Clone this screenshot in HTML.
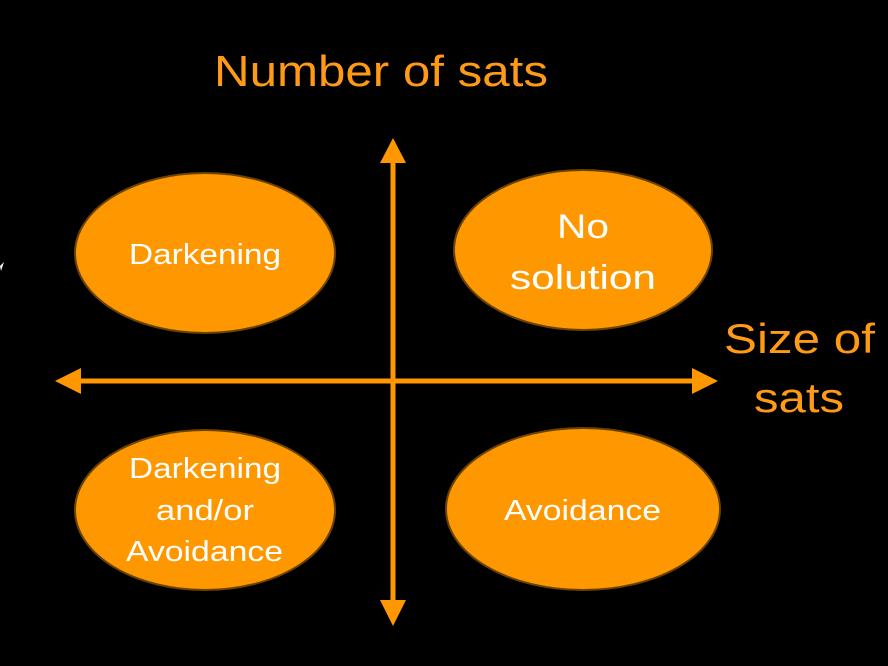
<!DOCTYPE html>
<html><head><style>
html,body{margin:0;padding:0;background:#000;}
body{width:888px;height:666px;overflow:hidden;position:relative;}
svg{position:absolute;left:0;top:0;}
</style></head><body>
<svg width="888" height="666" viewBox="0 0 888 666" font-family="'Liberation Sans', sans-serif">
<rect width="888" height="666" fill="#000"/>
<text x="214" y="86" fill="#FF9A17" font-size="44" textLength="334" lengthAdjust="spacingAndGlyphs">Number of sats</text>
<text x="724" y="353" fill="#FF9A17" font-size="42" textLength="151" lengthAdjust="spacingAndGlyphs">Size of</text>
<text x="754" y="412" fill="#FF9A17" font-size="42" textLength="90" lengthAdjust="spacingAndGlyphs">sats</text>
<polygon points="0,266 4,262 1,271" fill="#fff"/>
<line x1="393" y1="160" x2="393" y2="603" stroke="#FF9800" stroke-width="5"/>
<polygon points="393,138 380,163 406,163" fill="#FF9800"/>
<polygon points="393,626 380,600 406,600" fill="#FF9800"/>
<line x1="78" y1="381" x2="696" y2="381" stroke="#FF9800" stroke-width="5"/>
<polygon points="55,381 81,368 81,394" fill="#FF9800"/>
<polygon points="718,381 692,368 692,394" fill="#FF9800"/>
<g fill="#FF9800" stroke="#6b4200" stroke-width="2">
<ellipse cx="205" cy="253" rx="130" ry="80"/>
<ellipse cx="583" cy="250" rx="129" ry="80"/>
<ellipse cx="205" cy="510" rx="130" ry="80"/>
<ellipse cx="583" cy="509" rx="137" ry="81"/>
</g>
<g fill="#fff" font-size="29" lengthAdjust="spacingAndGlyphs">
<text x="129" y="264" textLength="152" lengthAdjust="spacingAndGlyphs">Darkening</text>
<text x="557" y="238" font-size="34" textLength="52" lengthAdjust="spacingAndGlyphs">No</text>
<text x="510" y="289" font-size="34" textLength="146" lengthAdjust="spacingAndGlyphs">solution</text>
<text x="129" y="478" textLength="152" lengthAdjust="spacingAndGlyphs">Darkening</text>
<text x="156" y="520" textLength="98" lengthAdjust="spacingAndGlyphs">and/or</text>
<text x="126" y="561" textLength="157" lengthAdjust="spacingAndGlyphs">Avoidance</text>
<text x="504" y="520" textLength="157" lengthAdjust="spacingAndGlyphs">Avoidance</text>
</g>
</svg>
</body></html>
